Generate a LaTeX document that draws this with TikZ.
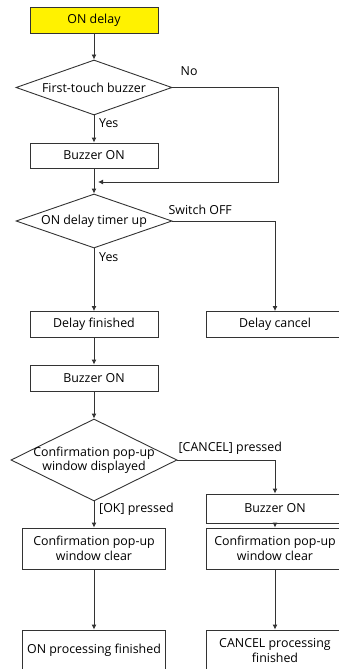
\documentclass[tikz,border=0pt]{standalone}
\usepackage{fontspec}
\setmainfont{Open Sans}
\usepackage{tikz}
\usetikzlibrary{positioning,shapes.geometric,arrows.meta}
\definecolor{ondelay}{RGB}{255,242,0}

\begin{document}
\begin{tikzpicture}[
    x=1pt, y=-1pt,
    font=\fontsize{12.4}{14.5}\selectfont,
    st/.style  = {draw=black!80, line width=0.9pt, minimum width=128pt,
                  minimum height=26pt, inner sep=1pt, align=center, fill=white},
    stw/.style = {st, minimum width=143pt, minimum height=41pt},
    str/.style = {st, minimum width=138pt},
    dec/.style = {diamond, draw=black!80, line width=0.9pt, inner sep=0pt,
                  aspect=2.8, minimum width=156pt, minimum height=55pt},
    ar/.style  = {-{Latex[length=5pt,width=5pt]}, draw=black!80, line width=0.9pt},
    lab/.style = {inner sep=0pt},
]
\useasboundingbox (0,0) rectangle (339,669);

%--- start and first buzzer check
\node[st, fill=ondelay] (start) at (94,20) {ON delay};
\node[dec] (q1) at (94,87.5) {First-touch buzzer};
\node[st, minimum height=25pt] (bz1) at (94,155.5) {Buzzer ON};
\coordinate (join) at (98,182);

%--- delay timer
\node[dec, minimum height=54pt] (q2) at (94,221) {ON delay timer up};
\node[st] (fin) at (94,324.5) {Delay finished};
\node[str] (cnl) at (275,324.5) {Delay cancel};
\node[st] (bz2) at (94,378) {Buzzer ON};

%--- confirmation pop-up
\node[dec, minimum width=166pt, minimum height=82pt,
      label={[lab, align=center]center:Confirmation pop-up\\window displayed}] (q3) at (94,460) {};
\node[str, minimum height=29pt] (bz3) at (275,508.5) {Buzzer ON};
\node[stw] (clr1) at (94,548.5) {Confirmation pop-up\\window clear};
\node[stw, minimum width=138pt] (clr2) at (275,548.5) {Confirmation pop-up\\window clear};
\node[stw, inner xsep=0pt] (done1) at (94,650.5) {ON processing finished};
\node[stw, minimum width=138pt] (done2) at (275,650.5) {CANCEL processing\\finished};

%--- branch labels
\node[lab, anchor=base west] (no1)  at ([xshift=8pt,yshift=12pt]q1.east) {No};
\node[lab, anchor=base west] (yes1) at ([xshift=5pt,yshift=-12pt]q1.south) {Yes};
\node[lab, anchor=base west] (off2) at ([xshift=-4pt,yshift=7pt]q2.east) {Switch OFF};
\node[lab, anchor=base west] (yes2) at ([xshift=5pt,yshift=-13pt]q2.south) {Yes};
\node[lab, anchor=base west] (can3) at ([xshift=1pt,yshift=9pt]q3.east) {[CANCEL] pressed};
\node[lab, anchor=base west] (ok3)  at ([xshift=5pt,yshift=-11pt]q3.south) {[OK] pressed};

%--- edges
\draw[ar] (start) -- (q1);
\draw[ar] (q1) -- (bz1);
\draw[ar] (q1.east) -- ++(106,0) |- (join);
\draw[ar] (bz1) -- (q2);
\draw[ar] (q2.east) -| (cnl.north);
\draw[ar] (q2) -- (fin);
\draw[ar] (fin) -- (bz2);
\draw[ar] (bz2) -- (q3);
\draw[ar] (q3.east) -| (bz3.north);
\draw[ar] (q3) -- (clr1);
\draw[ar] (bz3) -- (clr2);
\draw[ar] (clr1) -- (done1);
\draw[ar] (clr2) -- (done2);

\end{tikzpicture}
\end{document}
